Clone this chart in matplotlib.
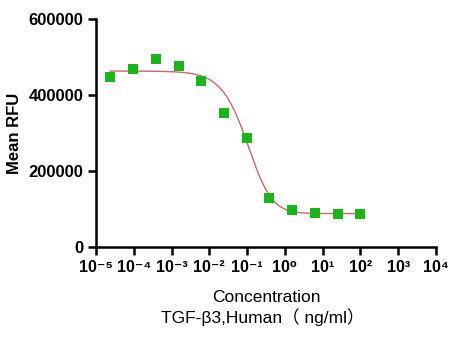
import numpy as np
import matplotlib
matplotlib.use("Agg")
import matplotlib.pyplot as plt

# Concentrations (ng/ml), 4-fold serial dilution, and measured signal
conc = [2.38e-5, 9.54e-5, 3.81e-4, 1.53e-3, 6.10e-3, 2.44e-2,
        9.77e-2, 3.91e-1, 1.5625, 6.25, 25.0, 100.0]
rfu = [447000, 468000, 494000, 476000, 437000, 353000,
       288000, 128000, 97000, 89000, 86000, 86000]

# Five-parameter logistic fit parameters
top, bottom, log_ec50, hill, asym = 463000, 88000, -0.774, 1.15, 1.6

x_ticks = [10.0 ** k for k in range(-5, 5)]
sup = {"-": "\u207b", "0": "\u2070", "1": "\u00b9", "2": "\u00b2", "3": "\u00b3",
       "4": "\u2074", "5": "\u2075"}
x_ticklabels = ["10" + "".join(sup[c] for c in str(k)) for k in range(-5, 5)]
y_ticks = [0, 200000, 400000, 600000]

fam = ["Liberation Sans", "DejaVu Sans"]
cjk_fam = ["Liberation Sans", "Noto Sans CJK SC", "DejaVu Sans"]

fig = plt.figure(figsize=(4.59, 3.39), dpi=100)
ax = fig.add_axes([96 / 459, 1 - 247 / 339, 340 / 459, 228 / 339])

xs = np.logspace(np.log10(conc[0]), np.log10(conc[-1]), 400)
curve = bottom + (top - bottom) / (1 + 10 ** ((np.log10(xs) - log_ec50) * hill)) ** asym
ax.plot(xs, curve, color="#d2646c", lw=1.0, zorder=2)
ax.plot(conc, rfu, ls="none", marker="s", ms=7.3, color="#18b618",
        markeredgewidth=0, zorder=3)

ax.set_xscale("log")
ax.set_xlim(1e-5, 1e4)
ax.set_ylim(0, 600000)
ax.set_xticks(x_ticks)
ax.set_xticklabels(x_ticklabels)
ax.xaxis.set_minor_locator(matplotlib.ticker.NullLocator())
ax.set_yticks(y_ticks)
ax.set_yticklabels([str(v) for v in y_ticks])

for s in ("top", "right"):
    ax.spines[s].set_visible(False)
for s in ("left", "bottom"):
    ax.spines[s].set_linewidth(1.8)
ax.tick_params(axis="both", which="major", direction="out", length=6, width=1.8,
               pad=3)
for lab in ax.get_xticklabels():
    lab.set_fontfamily(fam)
    lab.set_fontweight("bold")
    lab.set_fontsize(11.5)
for lab in ax.get_yticklabels():
    lab.set_fontfamily(fam)
    lab.set_fontweight("bold")
    lab.set_fontsize(12)

ax.set_ylabel("Mean RFU", fontfamily=fam, fontweight="bold", fontsize=12, labelpad=5)
fig.text(266 / 459, 1 - 302 / 339, "Concentration", ha="center", va="baseline",
         fontfamily=fam, fontsize=12.5)
fig.text(263 / 459, 1 - 323 / 339, "TGF-\u03b23,Human\uff08 ng/ml\uff09", ha="center",
         va="baseline", fontfamily=cjk_fam, fontsize=12.5)

fig.savefig("out.png", dpi=100, facecolor="white")
